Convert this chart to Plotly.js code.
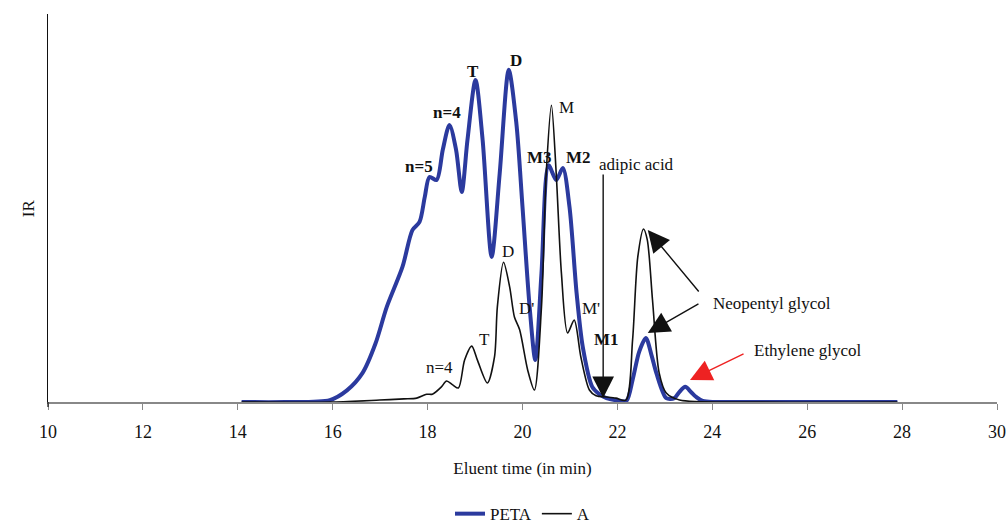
<!DOCTYPE html>
<html>
<head>
<meta charset="utf-8">
<script src="https://cdn.plot.ly/plotly-3.0.1.min.js"></script>
<style>html,body{margin:0;padding:0;background:#fff;}#chart{width:1008px;height:523px;}</style>
</head>
<body>
<div id="chart"></div>
<script>
// PETA series (elution time in min, IR response)
const petaTime = [14.08, 15.0, 15.94, 16.3, 16.63, 16.9, 17.14, 17.47, 17.68, 17.83, 17.94, 18.04, 18.19, 18.32, 18.46, 18.6, 18.72, 18.84, 19.01, 19.16, 19.35, 19.52, 19.71, 19.87, 20.0, 20.15, 20.27, 20.4, 20.55, 20.71, 20.85, 20.99, 21.14, 21.27, 21.47, 21.62, 21.77, 22.0, 22.19, 22.32, 22.46, 22.6, 22.72, 22.82, 23.03, 23.2, 23.3, 23.43, 23.55, 23.66, 23.8, 25.0, 27.9];
const petaIR   = [0, 0, 0.5, 3, 7.5, 15, 24.5, 34.8, 44.3, 46.4, 52.8, 58, 57.2, 65, 71.4, 65, 54.1, 67.5, 83, 67.5, 37.4, 59, 85.6, 71.9, 50.3, 24.5, 10.8, 33.2, 61, 57.2, 60.3, 50.3, 28.1, 14.2, 3.9, 2.0, 1.0, 0.4, 0.3, 5.7, 13, 16.5, 12, 7.5, 1, 1, 2.5, 3.9, 2.6, 1.3, 0.3, 0, 0];
// A series
const aTime = [14.08, 16.0, 16.99, 17.5, 17.77, 17.98, 18.1, 18.29, 18.4, 18.53, 18.65, 18.78, 18.93, 19.05, 19.26, 19.41, 19.47, 19.6, 19.73, 19.83, 19.94, 20.11, 20.25, 20.4, 20.5, 20.61, 20.71, 20.82, 20.95, 21.09, 21.23, 21.41, 21.55, 21.77, 21.97, 22.18, 22.32, 22.43, 22.55, 22.63, 22.74, 22.88, 23.03, 23.31, 25.0, 27.9];
const aIR   = [0, 0, 0.5, 0.8, 1, 2, 2, 3.9, 5.4, 4.4, 3.6, 10.8, 14.4, 10.8, 4.9, 11.6, 24.5, 36, 29.6, 21.9, 18.6, 8.2, 3.1, 24.5, 59, 76.5, 59, 33.2, 17.8, 21.1, 11.6, 3.1, 1.6, 1.3, 1.0, 0.5, 16, 37.4, 44.6, 41.8, 26.3, 7.5, 2.3, 0.5, 0, 0];
const xTicks = [10, 12, 14, 16, 18, 20, 22, 24, 26, 28, 30];

// Peak labels
const petaLabels = ['n=5', 'n=4', 'T', 'D', 'M3', 'M2', 'M1'];
const petaLabelX = [17.82, 18.41, 18.96, 19.86, 20.35, 21.17, 21.78];
const petaLabelY = [60.8, 74.5, 85.3, 87.9, 63.1, 63.1, 16.2];
const aLabels = ['n=4', 'T', 'D', "D'", 'M', "M'"];
const aLabelX = [18.26, 19.19, 19.69, 20.09, 20.92, 21.44];
const aLabelY = [8.8, 16.0, 38.9, 24.0, 76.0, 24.2];

const serif = "'Liberation Serif', 'Times New Roman', serif";

const traces = [
  {x: petaTime, y: petaIR, name: 'PETA', type: 'scatter', mode: 'lines',
   line: {color: '#2B3A9E', width: 4, shape: 'spline', smoothing: 0.8}},
  {x: aTime, y: aIR, name: 'A', type: 'scatter', mode: 'lines',
   line: {color: '#111111', width: 1.6, shape: 'spline', smoothing: 0.8}}
];

const ann = [];
petaLabels.forEach((t, i) => ann.push({x: petaLabelX[i], y: petaLabelY[i], xref: 'x', yref: 'y', text: '<b>' + t + '</b>', showarrow: false, font: {family: serif, size: 17, color: '#111'}}));
aLabels.forEach((t, i) => ann.push({x: aLabelX[i], y: aLabelY[i], xref: 'x', yref: 'y', text: t, showarrow: false, font: {family: serif, size: 17, color: '#111'}}));
ann.push({x: 22.41, y: 61.1, xref: 'x', yref: 'y', text: 'adipic acid', showarrow: false, font: {family: serif, size: 17, color: '#111'}});
ann.push({x: 25.26, y: 25.5, xref: 'x', yref: 'y', text: 'Neopentyl glycol', showarrow: false, font: {family: serif, size: 17, color: '#111'}});
ann.push({x: 26.0, y: 13.4, xref: 'x', yref: 'y', text: 'Ethylene glycol', showarrow: false, font: {family: serif, size: 17, color: '#111'}});
// arrows
const arrows = [
  {x: 21.70, y: 1.0, ax: 21.70, ay: 59.0, color: '#111'},
  {x: 22.64, y: 44.3, ax: 23.74, ay: 28.1, color: '#111'},
  {x: 22.64, y: 17.8, ax: 23.74, ay: 25.5, color: '#111'},
  {x: 23.53, y: 5.7, ax: 24.69, ay: 12.6, color: '#EE2222'}
];
arrows.forEach(a => ann.push({x: a.x, y: a.y, ax: a.ax, ay: a.ay, xref: 'x', yref: 'y', axref: 'x', ayref: 'y', text: '', showarrow: true, arrowhead: 2, arrowsize: 3.1, arrowwidth: 1.4, arrowcolor: a.color}));
ann.push({x: -0.033, y: 0.5, xref: 'paper', yref: 'paper', text: 'IR', textangle: -90, showarrow: false, font: {family: serif, size: 17, color: '#111'}});

const layout = {
  width: 1008, height: 523,
  margin: {l: 48, r: 11, t: 14, b: 121, autoexpand: false},
  paper_bgcolor: '#fff', plot_bgcolor: '#fff',
  showlegend: true,
  legend: {orientation: 'h', x: 0.5, xanchor: 'center', yref: 'container', y: 0.017, yanchor: 'middle', font: {family: serif, size: 17, color: '#111'}},
  xaxis: {range: [10, 30], tickvals: xTicks, ticktext: xTicks.map(String), showgrid: false, zeroline: false, automargin: false,
          showline: true, linecolor: '#888', linewidth: 2, ticks: 'outside', ticklen: 6, tickcolor: '#888', tickwidth: 1,
          ticklabelstandoff: 6,
          tickfont: {family: serif, size: 18, color: '#111'},
          title: {text: 'Eluent time (in min)', font: {family: serif, size: 17, color: '#111'}, standoff: 22}},
  yaxis: {range: [0, 100], showgrid: false, zeroline: false, showticklabels: false, ticks: '', automargin: false,
          showline: true, linecolor: '#111', linewidth: 1.2},
  shapes: [{type: 'line', xref: 'paper', yref: 'paper', x0: 0, x1: 0, y0: 0, y1: -0.013, line: {color: '#111', width: 1.2}}],
  annotations: ann
};
Plotly.newPlot('chart', traces, layout, {displayModeBar: false, staticPlot: true});
</script>
</body>
</html>
